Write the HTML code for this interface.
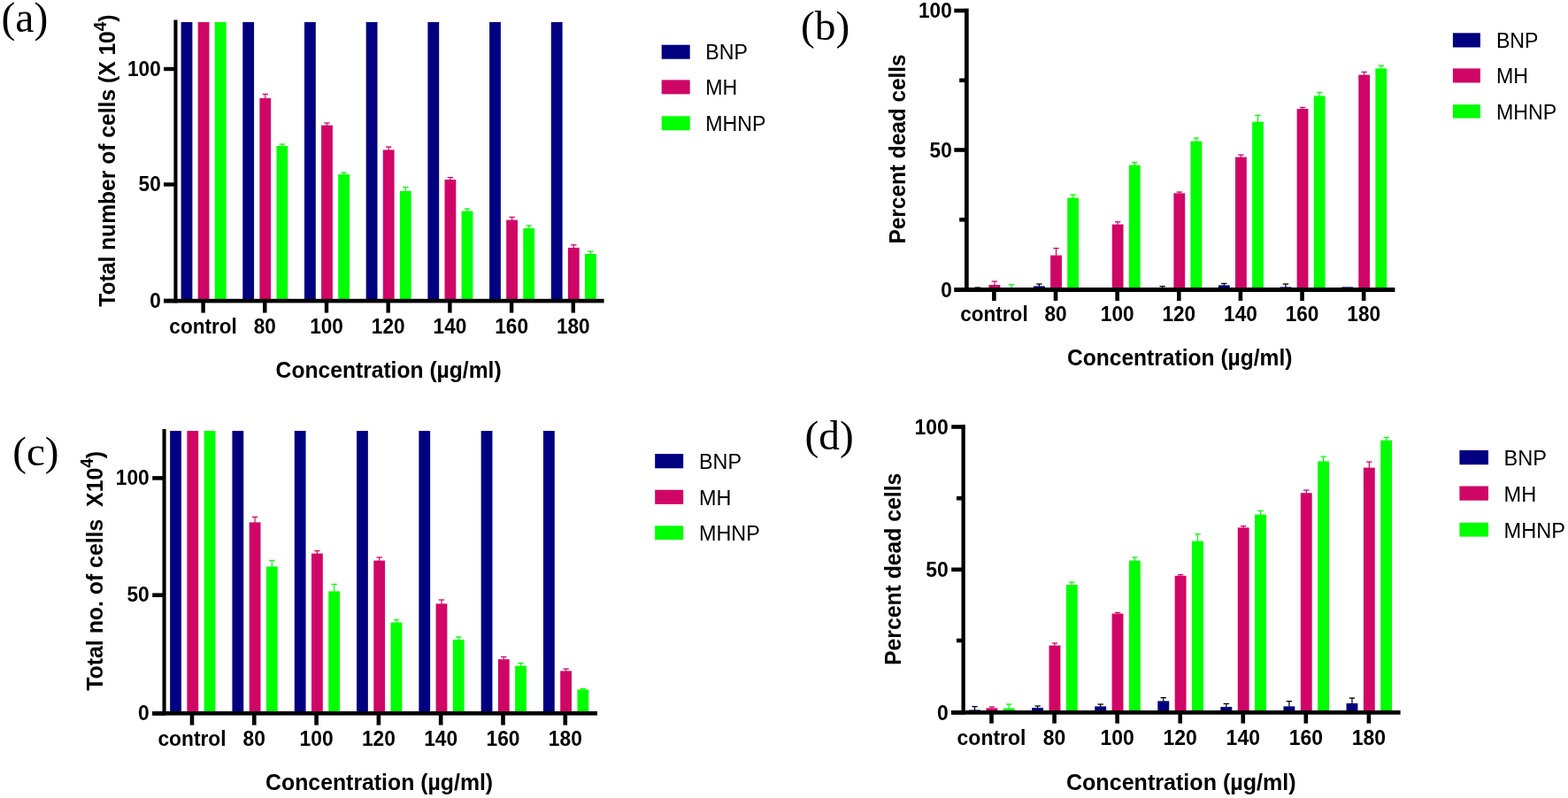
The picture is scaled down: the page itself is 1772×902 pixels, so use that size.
<!DOCTYPE html>
<html lang="en"><head><meta charset="utf-8"><title>Figure</title>
<style>
html,body{margin:0;padding:0;background:#fff;}
body{width:1772px;height:902px;overflow:hidden;}
svg{display:block;}
text{fill:#000;white-space:pre;}
.b{font-family:"Liberation Sans",sans-serif;font-weight:bold;}
.r{font-family:"Liberation Sans",sans-serif;font-weight:normal;}
.t{font-family:"Liberation Serif",serif;font-weight:normal;}
.m{text-anchor:middle;} .s{text-anchor:start;} .e{text-anchor:end;}
.n{fill:#000080;} .p{fill:#D00666;} .g{fill:#00FF00;} .k{fill:#000;}
</style></head>
<body>
<svg width="1772" height="902" viewBox="0 0 1772 902">
<rect width="1772" height="902" fill="#fff"/>
<g id="panel-a">
<rect class="n" x="204.6" y="25" width="12.8" height="314"/>
<rect class="p" x="223.7" y="25" width="12.8" height="314"/>
<rect class="g" x="242.8" y="25" width="12.8" height="314"/>
<rect class="n" x="274.3" y="25" width="12.8" height="314"/>
<rect class="p" x="293.4" y="111" width="12.8" height="228"/>
<rect class="p" x="299.2" y="106.4" width="1.2" height="5.1"/>
<rect class="p" x="296.6" y="105.8" width="6.4" height="1.3"/>
<rect class="g" x="312.5" y="165" width="12.8" height="174"/>
<rect class="g" x="318.3" y="163" width="1.2" height="2.5"/>
<rect class="g" x="315.7" y="162.4" width="6.4" height="1.3"/>
<rect class="n" x="344" y="25" width="12.8" height="314"/>
<rect class="p" x="363.1" y="141.6" width="12.8" height="197.4"/>
<rect class="p" x="368.9" y="139" width="1.2" height="3.1"/>
<rect class="p" x="366.3" y="138.4" width="6.4" height="1.3"/>
<rect class="g" x="382.2" y="197" width="12.8" height="142"/>
<rect class="g" x="388" y="195" width="1.2" height="2.5"/>
<rect class="g" x="385.4" y="194.4" width="6.4" height="1.3"/>
<rect class="n" x="413.7" y="25" width="12.8" height="314"/>
<rect class="p" x="432.8" y="169.4" width="12.8" height="169.6"/>
<rect class="p" x="438.6" y="166" width="1.2" height="3.9"/>
<rect class="p" x="436" y="165.4" width="6.4" height="1.3"/>
<rect class="g" x="451.9" y="216" width="12.8" height="123"/>
<rect class="g" x="457.7" y="211.6" width="1.2" height="4.9"/>
<rect class="g" x="455.1" y="211" width="6.4" height="1.3"/>
<rect class="n" x="483.4" y="25" width="12.8" height="314"/>
<rect class="p" x="502.5" y="203" width="12.8" height="136"/>
<rect class="p" x="508.3" y="200.6" width="1.2" height="2.9"/>
<rect class="p" x="505.7" y="200" width="6.4" height="1.3"/>
<rect class="g" x="521.6" y="238.6" width="12.8" height="100.4"/>
<rect class="g" x="527.4" y="236" width="1.2" height="3.1"/>
<rect class="g" x="524.8" y="235.4" width="6.4" height="1.3"/>
<rect class="n" x="553.1" y="25" width="12.8" height="314"/>
<rect class="p" x="572.2" y="248.6" width="12.8" height="90.4"/>
<rect class="p" x="578" y="245.4" width="1.2" height="3.7"/>
<rect class="p" x="575.4" y="244.8" width="6.4" height="1.3"/>
<rect class="g" x="591.3" y="258" width="12.8" height="81"/>
<rect class="g" x="597.1" y="255" width="1.2" height="3.5"/>
<rect class="g" x="594.5" y="254.4" width="6.4" height="1.3"/>
<rect class="n" x="622.8" y="25" width="12.8" height="314"/>
<rect class="p" x="641.9" y="280" width="12.8" height="59"/>
<rect class="p" x="647.7" y="276.8" width="1.2" height="3.7"/>
<rect class="p" x="645.1" y="276.2" width="6.4" height="1.3"/>
<rect class="g" x="661" y="287" width="12.8" height="52"/>
<rect class="g" x="666.8" y="284.2" width="1.2" height="3.3"/>
<rect class="g" x="664.2" y="283.6" width="6.4" height="1.3"/>
<rect class="k" x="196.4" y="22.5" width="4.1" height="319.9"/>
<rect class="k" x="185" y="337.8" width="497.6" height="4.6"/>
<rect class="k" x="185" y="337.8" width="12.4" height="4.4"/>
<text class="b e" transform="translate(181.7 347.8) scale(1 1.04)" font-size="22.6">0</text>
<rect class="k" x="185" y="206.3" width="12.4" height="4.4"/>
<text class="b e" transform="translate(181.7 216.3) scale(1 1.04)" font-size="22.6">50</text>
<rect class="k" x="185" y="75.8" width="12.4" height="4.4"/>
<text class="b e" transform="translate(181.7 85.8) scale(1 1.04)" font-size="22.6">100</text>
<rect class="k" x="227.4" y="341.4" width="4.4" height="12.2"/>
<text class="b m" transform="translate(229.6 376.7) scale(1 1.04)" font-size="22.6">control</text>
<rect class="k" x="297.1" y="341.4" width="4.4" height="12.2"/>
<text class="b m" transform="translate(299.3 376.7) scale(1 1.04)" font-size="22.6">80</text>
<rect class="k" x="366.8" y="341.4" width="4.4" height="12.2"/>
<text class="b m" transform="translate(369 376.7) scale(1 1.04)" font-size="22.6">100</text>
<rect class="k" x="436.5" y="341.4" width="4.4" height="12.2"/>
<text class="b m" transform="translate(438.7 376.7) scale(1 1.04)" font-size="22.6">120</text>
<rect class="k" x="506.2" y="341.4" width="4.4" height="12.2"/>
<text class="b m" transform="translate(508.4 376.7) scale(1 1.04)" font-size="22.6">140</text>
<rect class="k" x="575.9" y="341.4" width="4.4" height="12.2"/>
<text class="b m" transform="translate(578.1 376.7) scale(1 1.04)" font-size="22.6">160</text>
<rect class="k" x="645.6" y="341.4" width="4.4" height="12.2"/>
<text class="b m" transform="translate(647.8 376.7) scale(1 1.04)" font-size="22.6">180</text>
<text class="b m" transform="translate(439.1 426.6) scale(1 1.02)" font-size="24.65">Concentration (µg/ml)</text>
<text class="b m" transform="translate(130.3 181.6) rotate(-90) scale(1 1.02)" font-size="24.65">Total number of cells (X 10<tspan font-size="19" dy="-10.5">4</tspan><tspan dy="10.5">)</tspan></text>
<text class="t s" transform="translate(1.5 36.4)" font-size="47.6">(a)</text>
<rect class="n" x="747.7" y="50.7" width="32" height="16"/>
<text class="r s" transform="translate(797.2 67.4) scale(1 1.04)" font-size="23.2">BNP</text>
<rect class="p" x="747.7" y="90.4" width="32" height="16"/>
<text class="r s" transform="translate(797.2 107.1) scale(1 1.04)" font-size="23.2">MH</text>
<rect class="g" x="747.7" y="131.3" width="32" height="16"/>
<text class="r s" transform="translate(797.2 148) scale(1 1.04)" font-size="23.2">MHNP</text>
</g>
<g id="panel-b">
<rect class="k" x="1104.2" y="325" width="1.2" height="0.5"/>
<rect class="k" x="1101.6" y="324.4" width="6.4" height="1.3"/>
<rect class="p" x="1117.5" y="322" width="12.8" height="4"/>
<rect class="p" x="1123.3" y="318" width="1.2" height="4.5"/>
<rect class="p" x="1120.7" y="317.4" width="6.4" height="1.3"/>
<rect class="g" x="1142.4" y="321.6" width="1.2" height="3.9"/>
<rect class="g" x="1139.8" y="321" width="6.4" height="1.3"/>
<rect class="n" x="1168.03" y="323.4" width="12.8" height="2.6"/>
<rect class="k" x="1173.83" y="321" width="1.2" height="2.9"/>
<rect class="k" x="1171.23" y="320.4" width="6.4" height="1.3"/>
<rect class="p" x="1187.13" y="288.6" width="12.8" height="37.4"/>
<rect class="p" x="1192.93" y="280.6" width="1.2" height="8.5"/>
<rect class="p" x="1190.33" y="280" width="6.4" height="1.3"/>
<rect class="g" x="1206.23" y="223.6" width="12.8" height="102.4"/>
<rect class="g" x="1212.03" y="220" width="1.2" height="4.1"/>
<rect class="g" x="1209.43" y="219.4" width="6.4" height="1.3"/>
<rect class="p" x="1256.76" y="253.6" width="12.8" height="72.4"/>
<rect class="p" x="1262.56" y="250.8" width="1.2" height="3.3"/>
<rect class="p" x="1259.96" y="250.2" width="6.4" height="1.3"/>
<rect class="g" x="1275.86" y="186.6" width="12.8" height="139.4"/>
<rect class="g" x="1281.66" y="183.4" width="1.2" height="3.7"/>
<rect class="g" x="1279.06" y="182.8" width="6.4" height="1.3"/>
<rect class="k" x="1313.09" y="323.6" width="1.2" height="1.9"/>
<rect class="k" x="1310.49" y="323" width="6.4" height="1.3"/>
<rect class="p" x="1326.39" y="218.4" width="12.8" height="107.6"/>
<rect class="p" x="1332.19" y="217" width="1.2" height="1.9"/>
<rect class="p" x="1329.59" y="216.4" width="6.4" height="1.3"/>
<rect class="g" x="1345.49" y="159.6" width="12.8" height="166.4"/>
<rect class="g" x="1351.29" y="156" width="1.2" height="4.1"/>
<rect class="g" x="1348.69" y="155.4" width="6.4" height="1.3"/>
<rect class="n" x="1376.92" y="322.4" width="12.8" height="3.6"/>
<rect class="k" x="1382.72" y="320.4" width="1.2" height="2.5"/>
<rect class="k" x="1380.12" y="319.8" width="6.4" height="1.3"/>
<rect class="p" x="1396.02" y="177.6" width="12.8" height="148.4"/>
<rect class="p" x="1401.82" y="175" width="1.2" height="3.1"/>
<rect class="p" x="1399.22" y="174.4" width="6.4" height="1.3"/>
<rect class="g" x="1415.12" y="137.6" width="12.8" height="188.4"/>
<rect class="g" x="1420.92" y="130.4" width="1.2" height="7.7"/>
<rect class="g" x="1418.32" y="129.8" width="6.4" height="1.3"/>
<rect class="n" x="1446.55" y="324.4" width="12.8" height="1.6"/>
<rect class="k" x="1452.35" y="321" width="1.2" height="3.9"/>
<rect class="k" x="1449.75" y="320.4" width="6.4" height="1.3"/>
<rect class="p" x="1465.65" y="123" width="12.8" height="203"/>
<rect class="p" x="1471.45" y="121.4" width="1.2" height="2.1"/>
<rect class="p" x="1468.85" y="120.8" width="6.4" height="1.3"/>
<rect class="g" x="1484.75" y="108.4" width="12.8" height="217.6"/>
<rect class="g" x="1490.55" y="104.4" width="1.2" height="4.5"/>
<rect class="g" x="1487.95" y="103.8" width="6.4" height="1.3"/>
<rect class="n" x="1516.18" y="324.4" width="12.8" height="1.6"/>
<rect class="p" x="1535.28" y="84.6" width="12.8" height="241.4"/>
<rect class="p" x="1541.08" y="81.4" width="1.2" height="3.7"/>
<rect class="p" x="1538.48" y="80.8" width="6.4" height="1.3"/>
<rect class="g" x="1554.38" y="77.4" width="12.8" height="248.6"/>
<rect class="g" x="1560.18" y="74.2" width="1.2" height="3.7"/>
<rect class="g" x="1557.58" y="73.6" width="6.4" height="1.3"/>
<rect class="k" x="1090" y="9.6" width="4.7" height="320.4"/>
<rect class="k" x="1078.8" y="325" width="497.6" height="5"/>
<rect class="k" x="1078.3" y="325.2" width="12.7" height="4.6"/>
<text class="b e" transform="translate(1075.7 335.6) scale(1 1.04)" font-size="22.6">0</text>
<rect class="k" x="1084.2" y="246" width="6.8" height="4.6"/>
<rect class="k" x="1078.3" y="167.2" width="12.7" height="4.6"/>
<text class="b e" transform="translate(1075.7 177.6) scale(1 1.04)" font-size="22.6">50</text>
<rect class="k" x="1084.2" y="88.5" width="6.8" height="4.6"/>
<rect class="k" x="1078.3" y="9.7" width="12.7" height="4.6"/>
<text class="b e" transform="translate(1075.7 20.1) scale(1 1.04)" font-size="22.6">100</text>
<rect class="k" x="1121.1" y="329" width="4.6" height="11"/>
<text class="b m" transform="translate(1123.4 363.2) scale(1 1.04)" font-size="22.6">control</text>
<rect class="k" x="1190.73" y="329" width="4.6" height="11"/>
<text class="b m" transform="translate(1193.03 363.2) scale(1 1.04)" font-size="22.6">80</text>
<rect class="k" x="1260.36" y="329" width="4.6" height="11"/>
<text class="b m" transform="translate(1262.66 363.2) scale(1 1.04)" font-size="22.6">100</text>
<rect class="k" x="1329.99" y="329" width="4.6" height="11"/>
<text class="b m" transform="translate(1332.29 363.2) scale(1 1.04)" font-size="22.6">120</text>
<rect class="k" x="1399.62" y="329" width="4.6" height="11"/>
<text class="b m" transform="translate(1401.92 363.2) scale(1 1.04)" font-size="22.6">140</text>
<rect class="k" x="1469.25" y="329" width="4.6" height="11"/>
<text class="b m" transform="translate(1471.55 363.2) scale(1 1.04)" font-size="22.6">160</text>
<rect class="k" x="1538.88" y="329" width="4.6" height="11"/>
<text class="b m" transform="translate(1541.18 363.2) scale(1 1.04)" font-size="22.6">180</text>
<text class="b m" transform="translate(1333.2 412.8) scale(1 1.02)" font-size="24.6">Concentration (µg/ml)</text>
<text class="b m" transform="translate(1022.8 168.4) rotate(-90) scale(1 1.02)" font-size="24.4">Percent dead cells</text>
<text class="t s" transform="translate(904.9 44.6)" font-size="47.4">(b)</text>
<rect class="n" x="1641.9" y="37.3" width="31" height="16.2"/>
<text class="r s" transform="translate(1690.9 54) scale(1 1.04)" font-size="23.2">BNP</text>
<rect class="p" x="1641.9" y="77.4" width="31" height="16.1"/>
<text class="r s" transform="translate(1690.9 94.1) scale(1 1.04)" font-size="23.2">MH</text>
<rect class="g" x="1641.9" y="118.2" width="31" height="15.4"/>
<text class="r s" transform="translate(1690.9 134.9) scale(1 1.04)" font-size="23.2">MHNP</text>
</g>
<g id="panel-c">
<rect class="n" x="192.15" y="487" width="12.8" height="318"/>
<rect class="p" x="211.4" y="487" width="12.8" height="318"/>
<rect class="g" x="230.65" y="487" width="12.8" height="318"/>
<rect class="n" x="262.45" y="487" width="12.8" height="318"/>
<rect class="p" x="281.7" y="590.4" width="12.8" height="214.6"/>
<rect class="p" x="287.5" y="584.4" width="1.2" height="6.5"/>
<rect class="p" x="284.9" y="583.8" width="6.4" height="1.3"/>
<rect class="g" x="300.95" y="640.4" width="12.8" height="164.6"/>
<rect class="g" x="306.75" y="633.4" width="1.2" height="7.5"/>
<rect class="g" x="304.15" y="632.8" width="6.4" height="1.3"/>
<rect class="n" x="332.75" y="487" width="12.8" height="318"/>
<rect class="p" x="352" y="625.6" width="12.8" height="179.4"/>
<rect class="p" x="357.8" y="622.6" width="1.2" height="3.5"/>
<rect class="p" x="355.2" y="622" width="6.4" height="1.3"/>
<rect class="g" x="371.25" y="668.4" width="12.8" height="136.6"/>
<rect class="g" x="377.05" y="660.4" width="1.2" height="8.5"/>
<rect class="g" x="374.45" y="659.8" width="6.4" height="1.3"/>
<rect class="n" x="403.05" y="487" width="12.8" height="318"/>
<rect class="p" x="422.3" y="633.6" width="12.8" height="171.4"/>
<rect class="p" x="428.1" y="630" width="1.2" height="4.1"/>
<rect class="p" x="425.5" y="629.4" width="6.4" height="1.3"/>
<rect class="g" x="441.55" y="703.6" width="12.8" height="101.4"/>
<rect class="g" x="447.35" y="700.6" width="1.2" height="3.5"/>
<rect class="g" x="444.75" y="700" width="6.4" height="1.3"/>
<rect class="n" x="473.35" y="487" width="12.8" height="318"/>
<rect class="p" x="492.6" y="682.4" width="12.8" height="122.6"/>
<rect class="p" x="498.4" y="678" width="1.2" height="4.9"/>
<rect class="p" x="495.8" y="677.4" width="6.4" height="1.3"/>
<rect class="g" x="511.85" y="723" width="12.8" height="82"/>
<rect class="g" x="517.65" y="720" width="1.2" height="3.5"/>
<rect class="g" x="515.05" y="719.4" width="6.4" height="1.3"/>
<rect class="n" x="543.65" y="487" width="12.8" height="318"/>
<rect class="p" x="562.9" y="745.2" width="12.8" height="59.8"/>
<rect class="p" x="568.7" y="742.4" width="1.2" height="3.3"/>
<rect class="p" x="566.1" y="741.8" width="6.4" height="1.3"/>
<rect class="g" x="582.15" y="752.6" width="12.8" height="52.4"/>
<rect class="g" x="587.95" y="749.6" width="1.2" height="3.5"/>
<rect class="g" x="585.35" y="749" width="6.4" height="1.3"/>
<rect class="n" x="613.95" y="487" width="12.8" height="318"/>
<rect class="p" x="633.2" y="758.4" width="12.8" height="46.6"/>
<rect class="p" x="639" y="756" width="1.2" height="2.9"/>
<rect class="p" x="636.4" y="755.4" width="6.4" height="1.3"/>
<rect class="g" x="652.45" y="779.4" width="12.8" height="25.6"/>
<rect class="g" x="658.25" y="778.4" width="1.2" height="1.5"/>
<rect class="g" x="655.65" y="777.8" width="6.4" height="1.3"/>
<rect class="k" x="183.5" y="485" width="4.1" height="323.6"/>
<rect class="k" x="172.2" y="804" width="502.8" height="4.6"/>
<rect class="k" x="172.2" y="804" width="12.3" height="4.6"/>
<text class="b e" transform="translate(168.8 814) scale(1 1.04)" font-size="22.8">0</text>
<rect class="k" x="172.2" y="670.4" width="12.3" height="4.6"/>
<text class="b e" transform="translate(168.8 680.4) scale(1 1.04)" font-size="22.8">50</text>
<rect class="k" x="172.2" y="538.1" width="12.3" height="4.6"/>
<text class="b e" transform="translate(168.8 548.1) scale(1 1.04)" font-size="22.8">100</text>
<rect class="k" x="214.7" y="807.6" width="4.6" height="12"/>
<text class="b m" transform="translate(217 842.8) scale(1 1.04)" font-size="22.8">control</text>
<rect class="k" x="285" y="807.6" width="4.6" height="12"/>
<text class="b m" transform="translate(287.3 842.8) scale(1 1.04)" font-size="22.8">80</text>
<rect class="k" x="355.3" y="807.6" width="4.6" height="12"/>
<text class="b m" transform="translate(357.6 842.8) scale(1 1.04)" font-size="22.8">100</text>
<rect class="k" x="425.6" y="807.6" width="4.6" height="12"/>
<text class="b m" transform="translate(427.9 842.8) scale(1 1.04)" font-size="22.8">120</text>
<rect class="k" x="495.9" y="807.6" width="4.6" height="12"/>
<text class="b m" transform="translate(498.2 842.8) scale(1 1.04)" font-size="22.8">140</text>
<rect class="k" x="566.2" y="807.6" width="4.6" height="12"/>
<text class="b m" transform="translate(568.5 842.8) scale(1 1.04)" font-size="22.8">160</text>
<rect class="k" x="636.5" y="807.6" width="4.6" height="12"/>
<text class="b m" transform="translate(638.8 842.8) scale(1 1.04)" font-size="22.8">180</text>
<text class="b m" transform="translate(428.6 892.8) scale(1 1.02)" font-size="24.85">Concentration (µg/ml)</text>
<text class="b m" transform="translate(115.7 645.3) rotate(-90) scale(1 1.02)" font-size="24.85">Total no. of cells&#160;&#160;X10<tspan font-size="19" dy="-10.5">4</tspan><tspan dy="10.5">)</tspan></text>
<text class="t s" transform="translate(14.2 526.3)" font-size="47.2">(c)</text>
<rect class="n" x="740.2" y="513" width="32" height="16.3"/>
<text class="r s" transform="translate(790 529.9) scale(1 1.04)" font-size="23.4">BNP</text>
<rect class="p" x="740.2" y="553.7" width="32" height="16.2"/>
<text class="r s" transform="translate(790 570.6) scale(1 1.04)" font-size="23.4">MH</text>
<rect class="g" x="740.2" y="594.3" width="32" height="15.8"/>
<text class="r s" transform="translate(790 611.2) scale(1 1.04)" font-size="23.4">MHNP</text>
</g>
<g id="panel-d">
<rect class="n" x="1095.1" y="802.4" width="12.9" height="1.6"/>
<rect class="k" x="1100.95" y="798.6" width="1.2" height="4.3"/>
<rect class="k" x="1098.35" y="798" width="6.4" height="1.3"/>
<rect class="p" x="1114.45" y="800.4" width="12.9" height="3.6"/>
<rect class="p" x="1120.3" y="799" width="1.2" height="1.9"/>
<rect class="p" x="1117.7" y="798.4" width="6.4" height="1.3"/>
<rect class="g" x="1133.8" y="800.6" width="12.9" height="3.4"/>
<rect class="g" x="1139.65" y="796" width="1.2" height="5.1"/>
<rect class="g" x="1137.05" y="795.4" width="6.4" height="1.3"/>
<rect class="n" x="1166.17" y="800" width="12.9" height="4"/>
<rect class="k" x="1172.02" y="798" width="1.2" height="2.5"/>
<rect class="k" x="1169.42" y="797.4" width="6.4" height="1.3"/>
<rect class="p" x="1185.52" y="729.6" width="12.9" height="74.4"/>
<rect class="p" x="1191.37" y="727" width="1.2" height="3.1"/>
<rect class="p" x="1188.77" y="726.4" width="6.4" height="1.3"/>
<rect class="g" x="1204.87" y="661" width="12.9" height="143"/>
<rect class="g" x="1210.72" y="658" width="1.2" height="3.5"/>
<rect class="g" x="1208.12" y="657.4" width="6.4" height="1.3"/>
<rect class="n" x="1237.24" y="798.4" width="12.9" height="5.6"/>
<rect class="k" x="1243.09" y="796" width="1.2" height="2.9"/>
<rect class="k" x="1240.49" y="795.4" width="6.4" height="1.3"/>
<rect class="p" x="1256.59" y="693.6" width="12.9" height="110.4"/>
<rect class="p" x="1262.44" y="692.4" width="1.2" height="1.7"/>
<rect class="p" x="1259.84" y="691.8" width="6.4" height="1.3"/>
<rect class="g" x="1275.94" y="633.6" width="12.9" height="170.4"/>
<rect class="g" x="1281.79" y="630" width="1.2" height="4.1"/>
<rect class="g" x="1279.19" y="629.4" width="6.4" height="1.3"/>
<rect class="n" x="1308.31" y="792.4" width="12.9" height="11.6"/>
<rect class="k" x="1314.16" y="788.6" width="1.2" height="4.3"/>
<rect class="k" x="1311.56" y="788" width="6.4" height="1.3"/>
<rect class="p" x="1327.66" y="650.8" width="12.9" height="153.2"/>
<rect class="p" x="1333.51" y="649.6" width="1.2" height="1.7"/>
<rect class="p" x="1330.91" y="649" width="6.4" height="1.3"/>
<rect class="g" x="1347.01" y="611.6" width="12.9" height="192.4"/>
<rect class="g" x="1352.86" y="603.6" width="1.2" height="8.5"/>
<rect class="g" x="1350.26" y="603" width="6.4" height="1.3"/>
<rect class="n" x="1379.38" y="799" width="12.9" height="5"/>
<rect class="k" x="1385.23" y="795.4" width="1.2" height="4.1"/>
<rect class="k" x="1382.63" y="794.8" width="6.4" height="1.3"/>
<rect class="p" x="1398.73" y="596.4" width="12.9" height="207.6"/>
<rect class="p" x="1404.58" y="594.6" width="1.2" height="2.3"/>
<rect class="p" x="1401.98" y="594" width="6.4" height="1.3"/>
<rect class="g" x="1418.08" y="581.6" width="12.9" height="222.4"/>
<rect class="g" x="1423.93" y="577.4" width="1.2" height="4.7"/>
<rect class="g" x="1421.33" y="576.8" width="6.4" height="1.3"/>
<rect class="n" x="1450.45" y="798.4" width="12.9" height="5.6"/>
<rect class="k" x="1456.3" y="792.6" width="1.2" height="6.3"/>
<rect class="k" x="1453.7" y="792" width="6.4" height="1.3"/>
<rect class="p" x="1469.8" y="557.2" width="12.9" height="246.8"/>
<rect class="p" x="1475.65" y="554" width="1.2" height="3.7"/>
<rect class="p" x="1473.05" y="553.4" width="6.4" height="1.3"/>
<rect class="g" x="1489.15" y="521.4" width="12.9" height="282.6"/>
<rect class="g" x="1495" y="516" width="1.2" height="5.9"/>
<rect class="g" x="1492.4" y="515.4" width="6.4" height="1.3"/>
<rect class="n" x="1521.52" y="795" width="12.9" height="9"/>
<rect class="k" x="1527.37" y="789" width="1.2" height="6.5"/>
<rect class="k" x="1524.77" y="788.4" width="6.4" height="1.3"/>
<rect class="p" x="1540.87" y="528.6" width="12.9" height="275.4"/>
<rect class="p" x="1546.72" y="522" width="1.2" height="7.1"/>
<rect class="p" x="1544.12" y="521.4" width="6.4" height="1.3"/>
<rect class="g" x="1560.22" y="497.6" width="12.9" height="306.4"/>
<rect class="g" x="1566.07" y="494.4" width="1.2" height="3.7"/>
<rect class="g" x="1563.47" y="493.8" width="6.4" height="1.3"/>
<rect class="k" x="1086.5" y="480" width="4.3" height="327.7"/>
<rect class="k" x="1075" y="803" width="507.6" height="4.7"/>
<rect class="k" x="1075.2" y="803" width="12.3" height="4.6"/>
<text class="b e" transform="translate(1071.9 813.7) scale(1 1.04)" font-size="23.0">0</text>
<rect class="k" x="1081" y="721.7" width="6.5" height="4.6"/>
<rect class="k" x="1075.2" y="641.5" width="12.3" height="4.6"/>
<text class="b e" transform="translate(1071.9 652.2) scale(1 1.04)" font-size="23.0">50</text>
<rect class="k" x="1081" y="560.9" width="6.5" height="4.6"/>
<rect class="k" x="1075.2" y="480.2" width="12.3" height="4.6"/>
<text class="b e" transform="translate(1071.9 490.9) scale(1 1.04)" font-size="23.0">100</text>
<rect class="k" x="1118.2" y="806.7" width="4.6" height="11"/>
<text class="b m" transform="translate(1120.5 841.8) scale(1 1.04)" font-size="23.0">control</text>
<rect class="k" x="1189.27" y="806.7" width="4.6" height="11"/>
<text class="b m" transform="translate(1191.57 841.8) scale(1 1.04)" font-size="23.0">80</text>
<rect class="k" x="1260.34" y="806.7" width="4.6" height="11"/>
<text class="b m" transform="translate(1262.64 841.8) scale(1 1.04)" font-size="23.0">100</text>
<rect class="k" x="1331.41" y="806.7" width="4.6" height="11"/>
<text class="b m" transform="translate(1333.71 841.8) scale(1 1.04)" font-size="23.0">120</text>
<rect class="k" x="1402.48" y="806.7" width="4.6" height="11"/>
<text class="b m" transform="translate(1404.78 841.8) scale(1 1.04)" font-size="23.0">140</text>
<rect class="k" x="1473.55" y="806.7" width="4.6" height="11"/>
<text class="b m" transform="translate(1475.85 841.8) scale(1 1.04)" font-size="23.0">160</text>
<rect class="k" x="1544.62" y="806.7" width="4.6" height="11"/>
<text class="b m" transform="translate(1546.92 841.8) scale(1 1.04)" font-size="23.0">180</text>
<text class="b m" transform="translate(1334.8 892.8) scale(1 1.02)" font-size="25.1">Concentration (µg/ml)</text>
<text class="b m" transform="translate(1018.2 643.3) rotate(-90) scale(1 1.02)" font-size="24.75">Percent dead cells</text>
<text class="t s" transform="translate(909.4 507.6)" font-size="47.4">(d)</text>
<rect class="n" x="1649.4" y="508.9" width="32.6" height="16.3"/>
<text class="r s" transform="translate(1699.6 525.9) scale(1 1.04)" font-size="23.6">BNP</text>
<rect class="p" x="1649.4" y="549.5" width="32.6" height="16.2"/>
<text class="r s" transform="translate(1699.6 566.5) scale(1 1.04)" font-size="23.6">MH</text>
<rect class="g" x="1649.4" y="590.8" width="32.6" height="15.8"/>
<text class="r s" transform="translate(1699.6 607.8) scale(1 1.04)" font-size="23.6">MHNP</text>
</g>
</svg>
</body></html>
